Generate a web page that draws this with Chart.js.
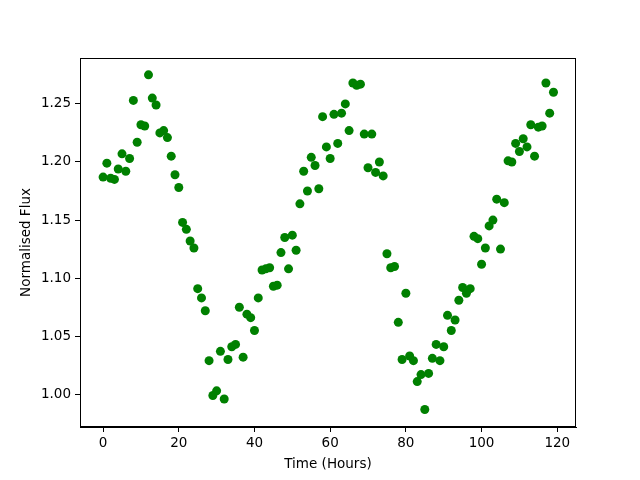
<!DOCTYPE html>
<html>
<head>
<meta charset="utf-8">
<title>Normalised Flux</title>
<script src="https://cdn.jsdelivr.net/npm/chart.js@4/dist/chart.umd.min.js"></script>
<style>
  html, body { margin: 0; padding: 0; background: #ffffff; }
  canvas { display: block; }
</style>
</head>
<body>
<canvas id="fluxChart" width="640" height="480"></canvas>
<script>
// Observation times (hours)
const timeHours = [
    0, 1, 2, 3, 4, 5, 6, 7, 8, 9, 10, 11, 12, 13, 14, 15, 16, 17, 18, 19,
    20, 21, 22, 23, 24, 25, 26, 27, 28, 29, 30, 31, 32, 33, 34, 35, 36, 37, 38, 39,
    40, 41, 42, 43, 44, 45, 46, 47, 48, 49, 50, 51, 52, 53, 54, 55, 56, 57, 58, 59,
    60, 61, 62, 63, 64, 65, 66, 67, 68, 69, 70, 71, 72, 73, 74, 75, 76, 77, 78, 79,
    80, 81, 82, 83, 84, 85, 86, 87, 88, 89, 90, 91, 92, 93, 94, 95, 96, 97, 98, 99,
    100, 101, 102, 103, 104, 105, 106, 107, 108, 109, 110, 111, 112, 113, 114, 115, 116, 117, 118, 119
];

// Normalised flux
const normFlux = [
    1.187, 1.199, 1.186, 1.185, 1.194, 1.207, 1.192, 1.203, 1.253, 1.217,
    1.232, 1.231, 1.275, 1.255, 1.249, 1.225, 1.227, 1.221, 1.205, 1.189,
    1.178, 1.148, 1.142, 1.132, 1.126, 1.091, 1.083, 1.072, 1.029, 0.999,
    1.003, 1.037, 0.996, 1.030, 1.041, 1.043, 1.075, 1.032, 1.069, 1.066,
    1.055, 1.083, 1.107, 1.108, 1.109, 1.093, 1.094, 1.122, 1.135, 1.108,
    1.137, 1.124, 1.164, 1.192, 1.175, 1.204, 1.197, 1.177, 1.239, 1.213,
    1.203, 1.241, 1.216, 1.242, 1.250, 1.227, 1.268, 1.266, 1.267, 1.224,
    1.195, 1.224, 1.191, 1.200, 1.188, 1.121, 1.109, 1.110, 1.062, 1.030,
    1.087, 1.033, 1.029, 1.011, 1.017, 0.987, 1.018, 1.031, 1.043, 1.029,
    1.041, 1.068, 1.055, 1.064, 1.081, 1.092, 1.087, 1.091, 1.136, 1.134,
    1.112, 1.126, 1.145, 1.150, 1.168, 1.125, 1.165, 1.201, 1.200, 1.216,
    1.209, 1.220, 1.213, 1.232, 1.205, 1.230, 1.231, 1.268, 1.242, 1.260
];

// Tick labels
const xTicks = [0, 20, 40, 60, 80, 100, 120];
const yTicks = [1.00, 1.05, 1.10, 1.15, 1.20, 1.25];

const fontFamily = "'DejaVu Sans', sans-serif";

// Draw the full box around the plot area, like matplotlib
const frameBox = {
    id: 'frameBox',
    afterDraw(chart) {
        const area = chart.chartArea;
        const ctx = chart.ctx;
        ctx.save();
        ctx.strokeStyle = '#000000';
        ctx.lineWidth = 1;
        ctx.strokeRect(area.left + 0.5, area.top + 0.5, area.right - area.left - 1, area.bottom - area.top - 1);
        ctx.restore();
    }
};

function createChart() {
    const ctx = document.getElementById('fluxChart').getContext('2d');
    const points = timeHours.map((t, i) => ({ x: t, y: normFlux[i] }));

    new Chart(ctx, {
        type: 'scatter',
        data: {
            datasets: [{
                data: points,
                backgroundColor: '#008000',
                borderWidth: 0,
                pointRadius: 4.5,
                pointHoverRadius: 4.5
            }]
        },
        options: {
            responsive: false,
            animation: false,
            devicePixelRatio: 1,
            events: [],
            layout: {
                padding: { left: 0, right: 64, top: 58, bottom: 0 }
            },
            plugins: {
                legend: { display: false },
                tooltip: { enabled: false }
            },
            scales: {
                x: {
                    type: 'linear',
                    min: -6.1,
                    max: 124.95,
                    afterFit: function(scale) { scale.height = 53; },
                    afterBuildTicks: function(scale) {
                        scale.ticks = xTicks.map(v => ({ value: v }));
                    },
                    grid: {
                        drawOnChartArea: false,
                        tickLength: 5,
                        tickColor: '#000000',
                        tickWidth: 1
                    },
                    border: { color: '#000000', width: 1 },
                    ticks: {
                        padding: 3,
                        color: '#000000',
                        maxRotation: 0,
                        font: { size: 13.5, family: fontFamily },
                        callback: function(value) { return String(value); }
                    },
                    title: {
                        display: true,
                        text: 'Time (Hours)',
                        color: '#000000',
                        font: { size: 13.5, family: fontFamily },
                        padding: { top: 0, bottom: 7 }
                    }
                },
                y: {
                    type: 'linear',
                    min: 0.9719,
                    max: 1.2895,
                    afterFit: function(scale) { scale.width = 80; },
                    afterBuildTicks: function(scale) {
                        scale.ticks = yTicks.map(v => ({ value: v }));
                    },
                    grid: {
                        drawOnChartArea: false,
                        tickLength: 5,
                        tickColor: '#000000',
                        tickWidth: 1
                    },
                    border: { color: '#000000', width: 1 },
                    ticks: {
                        padding: 4,
                        color: '#000000',
                        font: { size: 13.5, family: fontFamily },
                        callback: function(value) { return Number(value).toFixed(2); }
                    },
                    title: {
                        display: true,
                        text: 'Normalised Flux',
                        color: '#000000',
                        font: { size: 13.5, family: fontFamily },
                        padding: { top: 18, bottom: 0 }
                    }
                }
            }
        },
        plugins: [frameBox]
    });
}

document.addEventListener('DOMContentLoaded', function() {
    createChart();
});
</script>
</body>
</html>
